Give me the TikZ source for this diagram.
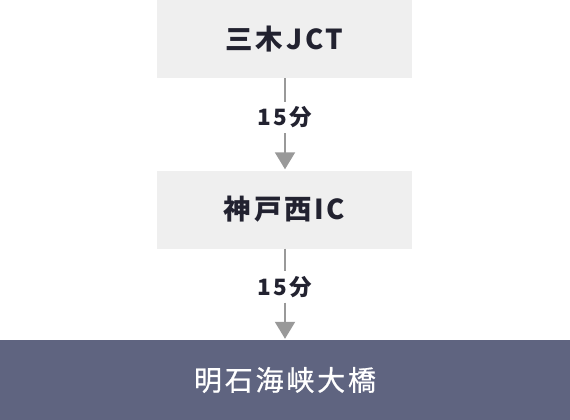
\documentclass[tikz,border=0pt]{standalone}
\usepackage{fontspec}
\setmainfont{Noto Sans CJK JP}[LetterSpace=10]
\newfontfamily\midfont{Noto Sans CJK JP}[LetterSpace=10, FakeBold=0.6]
\usetikzlibrary{arrows.meta}
\definecolor{boxgray}{HTML}{EFEFEF}
\definecolor{navy}{HTML}{5F6480}
\definecolor{ink}{HTML}{222230}
\definecolor{linegray}{HTML}{999999}
\tikzset{
  stop/.style={fill=boxgray, minimum width=255pt, minimum height=78pt, inner sep=0pt,
    text=ink, font=\bfseries\fontsize{27.5pt}{32pt}\selectfont},
  final/.style={fill=navy, minimum width=570pt, minimum height=80pt, inner sep=0pt,
    text=white, font=\midfont\fontsize{28pt}{32pt}\selectfont},
  timelab/.style={fill=white, minimum height=31pt, inner sep=0pt, text=ink,
    font=\bfseries\fontsize{22.5pt}{26pt}\selectfont},
  conn/.style={draw=linegray, line width=2pt},
  connarrow/.style={conn, -{Triangle[width=20pt,length=17pt]}, shorten >=1pt}
}
\begin{document}
\begin{tikzpicture}[x=1pt,y=-1pt]
\useasboundingbox (0,0) rectangle (570,420);
\node[stop] (a) at (284.5,39) {三木JCT};
\node[stop] (b) at (284.5,209.5) {神戸西IC};
\node[final] (c) at (285,380) {明石海峡大橋};
\node[timelab] (t1) at (285,117.5) {15分};
\node[timelab] (t2) at (285,287) {15分};
\draw[conn] (a.south -| t1) -- (t1.north);
\draw[connarrow] (t1.south) -- (b.north -| t1);
\draw[conn] (b.south -| t2) -- (t2.north);
\draw[connarrow] (t2.south) -- (c.north -| t2);
\end{tikzpicture}
\end{document}
